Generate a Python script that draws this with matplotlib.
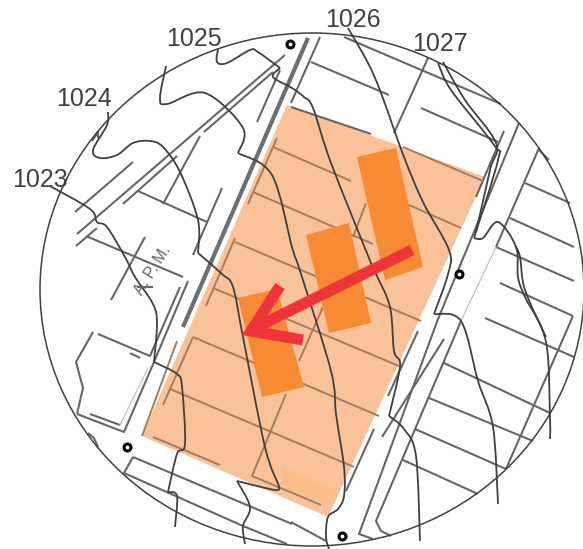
"""
Site map: contour lines, street grid, shaded lot with buildings and a flow arrow.
All coordinates are picture pixels read off the reference.
"""
from matplotlib import pyplot as plt
from matplotlib.patches import Ellipse, PathPatch, Polygon
from matplotlib.path import Path

boundary_center = (312, 289.5)
boundary_width = 544
boundary_height = 513

lot = [(287, 105), (485, 177), (328, 517), (142, 436)]
lot_corner = [(282, 466), (339, 492), (333, 506), (282, 487)]
buildings = [
    [(357, 157), (396, 148), (423, 267), (385, 280)],
    [(306, 235), (349, 223), (371, 323), (329, 333)],
    [(238, 298), (277, 289), (304, 387), (262, 397)],
]

arrow_shaft = [(412, 250), (255, 328)]
arrow_barbs = [(280, 286), (251, 331), (303, 340)]

survey_points = [(290, 44), (459, 274), (127, 447), (342, 536)]

labels = ["1023", "1024", "1025", "1026", "1027"]
label_x = [12, 56, 166, 325, 412]
label_y = [187, 106, 46, 27, 51]

# split where the line has a sharp corner
contours = [
    [(50, 186), (90, 209), (97, 222), (107, 227), (125, 257), (135, 277), (153, 304), (157, 324), (154, 362)],
    [(154, 362), (177, 374), (182, 387), (185, 444), (177, 454), (168, 492)],
    [(168, 492), (177, 496), (175, 527)],
    [(108, 112), (107, 125), (93, 150), (100, 158), (117, 155), (133, 143), (150, 141), (163, 147),
     (180, 172), (198, 220), (198, 253)],
    [(198, 253), (222, 274), (233, 287), (243, 337), (265, 447), (279, 486)],
    [(279, 486), (275, 490), (237, 481)],
    [(237, 481), (250, 507), (243, 526), (245, 544)],
    [(166, 66), (160, 98), (167, 104), (205, 93), (243, 128), (238, 153)],
    [(238, 153), (272, 175), (292, 247), (301, 274), (331, 371), (336, 414), (344, 467), (344, 496),
     (338, 509), (328, 517), (326, 537), (329, 549)],
    [(218, 49), (217, 62), (227, 63), (250, 50), (258, 52), (280, 68)],
    [(280, 68), (273, 77), (292, 88), (304, 97), (313, 108), (331, 163), (371, 263), (376, 274),
     (390, 307), (394, 351), (400, 366), (389, 416)],
    [(389, 416), (404, 429), (416, 456), (420, 541)],
    [(348, 28), (368, 63), (381, 93), (404, 157), (423, 202), (449, 250), (448, 274), (434, 314)],
    [(434, 314), (461, 321), (478, 381), (493, 427), (498, 504)],
    [(438, 63), (451, 90), (494, 145), (498, 160), (474, 238)],
    [(474, 238), (483, 238), (498, 222), (516, 247), (518, 277), (525, 297), (546, 342), (550, 420), (550, 439)],
    [(443, 62), (465, 100), (496, 143), (490, 170), (476, 232)],
    [(516, 247), (520, 257), (525, 290), (546, 337)],
]

# street lines that lie on white
streets = [
    [(75, 212), (133, 162)], [(77, 234), (285, 55)], [(76, 246), (97, 228)], [(123, 204), (177, 156)],
    [(204, 132), (273, 72)], [(257, 122), (280, 70)], [(138, 191), (207, 222)], [(163, 204), (200, 136)],
    [(193, 255), (222, 188)], [(86, 236), (183, 277)], [(145, 237), (111, 300)],
    [(188, 281), (154, 362), (124, 432), (77, 414)], [(180, 287), (150, 356), (98, 334)],
    [(93, 332), (76, 362), (83, 388), (77, 414)], [(90, 414), (120, 425)], [(137, 287), (153, 287)],
    [(92, 141), (98, 132), (98, 138)], [(88, 433), (94, 438), (98, 447)], [(130, 353), (140, 358)],
    [(133, 457), (292, 524)], [(133, 457), (124, 473), (243, 526), (287, 544)],
    [(311, 62), (389, 95)], [(320, 37), (291, 103)], [(344, 37), (501, 104)], [(428, 58), (394, 133)],
    [(421, 108), (498, 142)], [(291, 107), (371, 134)], [(504, 131), (476, 197)],
    [(519, 123), (438, 319), (359, 534), (373, 539)], [(444, 339), (382, 437)],
    [(418, 331), (388, 396)], [(374, 429), (346, 491)],
    [(539, 148), (496, 247)], [(461, 321), (376, 521), (381, 531), (391, 536)], [(539, 150), (549, 160)],
    [(525, 183), (570, 203)], [(510, 218), (574, 247)], [(496, 247), (574, 281)],
    [(500, 283), (573, 316)], [(485, 318), (574, 357)], [(573, 316), (506, 469)],
    [(444, 363), (550, 413)], [(429, 398), (533, 441)], [(415, 429), (506, 469)],
    [(403, 460), (478, 494)], [(291, 522), (326, 541)],
]
faint_streets = [[(496, 247), (461, 321)], [(120, 425), (148, 368)]]

# street lines showing through the shaded lot
lot_streets = [
    [(277, 138), (248, 204)], [(273, 147), (351, 181)], [(253, 192), (373, 244)],
    [(235, 238), (206, 306)], [(235, 242), (421, 321)], [(193, 337), (379, 416)],
    [(193, 337), (163, 405)], [(170, 389), (354, 467)], [(153, 437), (220, 465)],
    [(286, 394), (252, 476), (321, 505)], [(213, 288), (399, 366)], [(403, 147), (483, 181)],
    [(409, 205), (461, 228)], [(366, 203), (353, 237)], [(323, 307), (299, 361)],
    [(177, 341), (142, 436)],
]

main_road = [(308, 38), (183, 327)]


def smooth_path(points):
    # Catmull-Rom through the read points, so lines keep their rounded look
    verts = [points[0]]
    codes = [Path.MOVETO]
    for i in range(len(points) - 1):
        p0 = points[max(i - 1, 0)]
        p1 = points[i]
        p2 = points[i + 1]
        p3 = points[min(i + 2, len(points) - 1)]
        verts.append((p1[0] + (p2[0] - p0[0]) / 6, p1[1] + (p2[1] - p0[1]) / 6))
        verts.append((p2[0] - (p3[0] - p1[0]) / 6, p2[1] - (p3[1] - p1[1]) / 6))
        verts.append(p2)
        codes += [Path.CURVE4, Path.CURVE4, Path.CURVE4]
    return Path(verts, codes)


fig = plt.figure(figsize=(5.83, 5.49), dpi=100)
ax = fig.add_axes([0, 0, 1, 1])
ax.set_xlim(0, 583)
ax.set_ylim(549, 0)
ax.axis('off')

ax.add_patch(Polygon(lot, closed=True, fc='#F9C299', ec='none', zorder=1))
ax.add_patch(Polygon(lot_corner, closed=True, fc='#FCBE88', ec='none', zorder=1.1))

for line in streets:
    ax.plot(*zip(*line), color='#666666', lw=1.5, zorder=2, solid_capstyle='butt')
for line in faint_streets:
    ax.plot(*zip(*line), color='#BBBBBB', lw=0.8, zorder=2)
for line in lot_streets:
    ax.plot(*zip(*line), color='#A67C5E', lw=1.4, zorder=2, solid_capstyle='butt')
ax.plot(*zip(*main_road), color='#6D6E71', lw=3, zorder=2, solid_capstyle='butt')

for corners in buildings:
    ax.add_patch(Polygon(corners, closed=True, fc='#F68B33', ec='none', zorder=3))

ax.add_patch(Ellipse(boundary_center, boundary_width, boundary_height, fc='none', ec='#404040', lw=1.1, zorder=4))
for line in contours:
    ax.add_patch(PathPatch(smooth_path(line), fc='none', ec='#404040', lw=1.3, zorder=4))

ax.plot(*zip(*arrow_shaft), color='#EE3339', lw=8, zorder=5, solid_capstyle='butt')
ax.plot(*zip(*arrow_barbs), color='#EE3339', lw=8, zorder=5, solid_capstyle='butt',
        solid_joinstyle='miter')

ax.plot(*zip(*survey_points), ls='none', marker='o', ms=5, mfc='white', mec='black', mew=2.2, zorder=6)

for name, x, y in zip(labels, label_x, label_y):
    ax.text(x, y, name, fontsize=18, family='Liberation Sans', color='#404040',
            ha='left', va='baseline', zorder=7)
ax.text(153, 270, "A. P. M.", fontsize=11.5, family='Liberation Sans', color='#666666', rotation=58,
        ha='center', va='center', rotation_mode='anchor', zorder=7)

fig.savefig('out.png', dpi=100)
